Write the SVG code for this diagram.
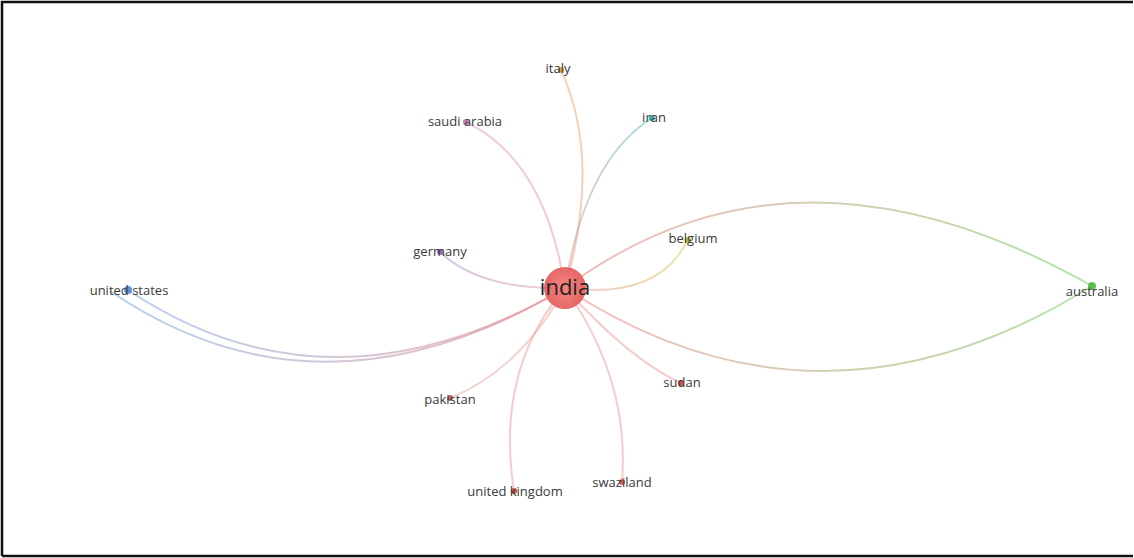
<svg xmlns="http://www.w3.org/2000/svg" width="1134" height="558" viewBox="0 0 1134 558">
<style>
.e{fill:none;stroke-width:2;stroke-opacity:0.45}
.l{font-family:"Open Sans","Liberation Sans",sans-serif;font-size:13px;fill:#3a3a3a;text-anchor:middle}
.d{fill-opacity:0.9}
</style>
<defs>
<radialGradient id="gIndia" cx="50%" cy="50%" r="50%">
<stop offset="0" stop-color="#f47f7c"/><stop offset="1" stop-color="#e35a58"/>
</radialGradient>
<linearGradient id="gUS" gradientUnits="userSpaceOnUse" x1="565" y1="288" x2="120" y2="290"><stop offset="0" stop-color="#e26d6b"/><stop offset="1" stop-color="#5a93d8"/></linearGradient>
<linearGradient id="gAU" gradientUnits="userSpaceOnUse" x1="565" y1="288" x2="1092" y2="286"><stop offset="0" stop-color="#e26d6b"/><stop offset="1" stop-color="#5cbf4a"/></linearGradient>
<linearGradient id="gIT" gradientUnits="userSpaceOnUse" x1="565" y1="288" x2="561" y2="70"><stop offset="0" stop-color="#e88a7a"/><stop offset="1" stop-color="#eaa35a"/></linearGradient>
<linearGradient id="gIR" gradientUnits="userSpaceOnUse" x1="565" y1="288" x2="652" y2="118"><stop offset="0" stop-color="#e88a8a"/><stop offset="1" stop-color="#3fb0b4"/></linearGradient>
<linearGradient id="gSA" gradientUnits="userSpaceOnUse" x1="565" y1="288" x2="466" y2="122"><stop offset="0" stop-color="#e88a8a"/><stop offset="1" stop-color="#d88ec8"/></linearGradient>
<linearGradient id="gDE" gradientUnits="userSpaceOnUse" x1="565" y1="288" x2="440" y2="252"><stop offset="0" stop-color="#e88a8a"/><stop offset="1" stop-color="#9a7ac8"/></linearGradient>
<linearGradient id="gBE" gradientUnits="userSpaceOnUse" x1="565" y1="288" x2="688" y2="239"><stop offset="0" stop-color="#e88a8a"/><stop offset="1" stop-color="#c8c83a"/></linearGradient>
</defs>
<rect width="1134" height="558" fill="#fff"/>
<path d="M2,556 V2 H1133 M2,556 H1133" fill="none" stroke="#111" stroke-width="2.5"/>
<g id="connectors">
<path class="e" stroke="url(#gUS)" d="M565,288 Q330,425 128,290"/>
<path class="e" stroke="url(#gUS)" d="M565,288 Q320,434 110,291"/>
<path class="e" stroke="url(#gAU)" d="M565,288 Q795,118 1092,286"/>
<path class="e" stroke="url(#gAU)" d="M565,288 Q820,455 1092,286"/>
<path class="e" stroke="url(#gIT)" d="M565,288 Q602,160 561,70"/>
<path class="e" stroke="url(#gIR)" d="M565,288 Q585,160 652,118"/>
<path class="e" stroke="url(#gSA)" d="M565,288 Q545,160 466,122"/>
<path class="e" stroke="url(#gDE)" d="M565,288 Q480,290 440,252"/>
<path class="e" stroke="url(#gBE)" d="M565,288 Q660,300 688,239"/>
<path class="e" stroke="#e79a96" d="M565,288 Q520,370 450,398"/>
<path class="e" stroke="#e7908c" d="M565,288 Q495,370 514,491"/>
<path class="e" stroke="#e7908c" d="M565,288 Q630,380 622,482"/>
<path class="e" stroke="#e7908c" d="M565,288 Q630,360 681,383"/>
</g>
<g id="india"><circle cx="565" cy="288" r="21" fill="url(#gIndia)" fill-opacity="0.92"/><text class="l" x="565" y="295" style="font-size:22px;fill:#222">india</text></g>
<g id="united-states"><circle class="d" cx="128" cy="290" r="4" fill="#4a8ad6"/><text class="l" x="129" y="295">united states</text></g>
<g id="australia"><circle class="d" cx="1092" cy="286" r="4" fill="#4cb83c"/><text class="l" x="1092" y="296">australia</text></g>
<g id="italy"><circle class="d" cx="561" cy="70" r="3" fill="#e0953e"/><text class="l" x="558" y="73">italy</text></g>
<g id="iran"><circle class="d" cx="652" cy="118" r="3" fill="#2a9ea2"/><text class="l" x="654" y="122">iran</text></g>
<g id="saudi-arabia"><circle class="d" cx="466" cy="122" r="3" fill="#b870a8"/><text class="l" x="465" y="126">saudi arabia</text></g>
<g id="germany"><circle class="d" cx="440" cy="252" r="3" fill="#8460b8"/><text class="l" x="440" y="256">germany</text></g>
<g id="belgium"><circle class="d" cx="688" cy="240" r="3" fill="#b5b52a"/><text class="l" x="693" y="243">belgium</text></g>
<g id="pakistan"><circle class="d" cx="450" cy="398" r="3" fill="#c0504d"/><text class="l" x="450" y="404">pakistan</text></g>
<g id="sudan"><circle class="d" cx="681" cy="383" r="3" fill="#d03a3a"/><text class="l" x="682" y="387">sudan</text></g>
<g id="united-kingdom"><circle class="d" cx="514" cy="491" r="3" fill="#d04040"/><text class="l" x="515" y="496">united kingdom</text></g>
<g id="swaziland"><circle class="d" cx="622" cy="482" r="3" fill="#d05050"/><text class="l" x="622" y="487">swaziland</text></g>
</svg>
